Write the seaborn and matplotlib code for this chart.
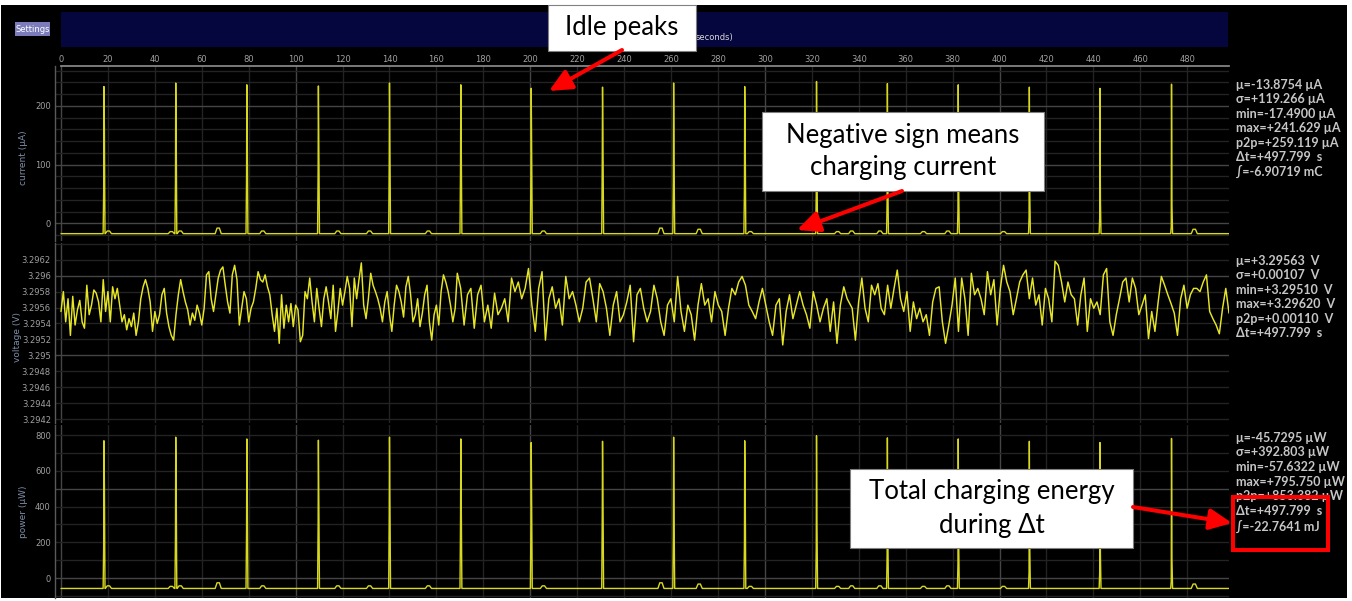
import numpy as np
import pandas as pd
import matplotlib
matplotlib.use("Agg")
import matplotlib.pyplot as plt
import seaborn as sns
from matplotlib.patches import Rectangle, FancyArrowPatch, ArrowStyle

# ---------------- data ----------------
t_end = 497.799
x_ticks = list(range(0, 481, 20))

cur_base = -17.49
pow_base = -57.63

peak_t = [18.3, 48.9, 79.2, 109.7, 140.0, 170.4, 200.4, 230.8, 261.1, 291.4,
          322.0, 352.2, 382.4, 412.7, 442.8, 473.3]
cur_pre = [55, 72, 81, 92, 106, 103, 92, 110, 72, 61, 53, 38, 25, 11, 9, -5]
cur_max = [233, 239, 236, 234, 239, 236, 230, 232, 239, 233, 241.6, 238, 236, 232, 230, 237]
cur_post = [160, 154, 139, 125, 117, 117, 120, 134, 100, 158, 90, 70, 60, 50, 40, 30]

pow_pre = [181, 237, 267, 303, 349, 339, 303, 363, 237, 201, 175, 125, 82, 36, 30, -16]
pow_max = [768, 788, 778, 771, 788, 778, 758, 765, 788, 768, 795.75, 784, 778, 765, 758, 781]
pow_post = [527, 508, 458, 412, 386, 386, 395, 442, 330, 521, 297, 231, 198, 165, 132, 99]

bump_t = [20.2, 47.0, 50.8, 67.0, 86.0, 118.0, 131.5, 156.6, 205.6, 255.7,
          272.0, 293.8, 331.0, 337.0, 349.0, 367.6, 378.0, 401.7, 483.0]
cur_bump = [-13, -14, -13, -8, -13, -13, -13, -13, -13, -8,
            -10, -14, -14, -13, -13, -14, -13, -14, -10]
pow_bump = [-43, -46, -43, -26, -43, -43, -43, -43, -43, -26,
            -33, -46, -46, -43, -43, -46, -43, -46, -33]

volt_seg_start = [0.0, 168.9, 337.2]
volt_seg_end = [168.0, 336.5, 497.8]
volt_seg1 = [
    3.29555, 3.29580, 3.29542, 3.29571, 3.29525, 3.29574, 3.29538, 3.29557, 3.29569, 3.29542,
    3.29534, 3.29588, 3.29551, 3.29563, 3.29582, 3.29578, 3.29567, 3.29542, 3.29595, 3.29555,
    3.29580, 3.29542, 3.29586, 3.29571, 3.29584, 3.29563, 3.29542, 3.29551, 3.29532, 3.29546,
    3.29536, 3.29553, 3.29525, 3.29542, 3.29571, 3.29586, 3.29595, 3.29584, 3.29567, 3.29530,
    3.29555, 3.29540, 3.29551, 3.29576, 3.29584, 3.29553, 3.29536, 3.29525, 3.29519, 3.29551,
    3.29576, 3.29595, 3.29580, 3.29567, 3.29557, 3.29538, 3.29553, 3.29544, 3.29563, 3.29553,
    3.29538, 3.29559, 3.29601, 3.29605, 3.29571, 3.29555, 3.29576, 3.29597, 3.29607, 3.29611,
    3.29588, 3.29567, 3.29553, 3.29601, 3.29613, 3.29595, 3.29538, 3.29559, 3.29580, 3.29571,
    3.29542, 3.29559, 3.29567, 3.29584, 3.29605, 3.29595, 3.29592, 3.29601, 3.29586, 3.29576,
    3.29551, 3.29530, 3.29559, 3.29515, 3.29576, 3.29534, 3.29563, 3.29542, 3.29565, 3.29536,
    3.29563, 3.29557, 3.29517, 3.29525, 3.29580, 3.29571, 3.29597, 3.29567, 3.29542, 3.29584,
    3.29559, 3.29536, 3.29571, 3.29586, 3.29567, 3.29546, 3.29588, 3.29530, 3.29555, 3.29584,
    3.29563, 3.29580, 3.29599, 3.29584, 3.29536, 3.29597, 3.29571, 3.29595, 3.29616, 3.29563,
    3.29546, 3.29571, 3.29603, 3.29588, 3.29580, 3.29571, 3.29559, 3.29542, 3.29567, 3.29580,
    3.29551, 3.29530, 3.29563, 3.29588, 3.29580, 3.29567, 3.29548, 3.29586, 3.29599, 3.29576,
    3.29542, 3.29551, 3.29571, 3.29536, 3.29553, 3.29576, 3.29588, 3.29542, 3.29519, 3.29551,
    3.29563, 3.29538, 3.29580, 3.29601, 3.29592, 3.29580, 3.29563, 3.29542, 3.29559]
volt_seg2 = [
    3.29603, 3.29584, 3.29538, 3.29576, 3.29584, 3.29534, 3.29576, 3.29588, 3.29542, 3.29563,
    3.29534, 3.29578, 3.29551, 3.29559, 3.29571, 3.29542, 3.29597, 3.29580, 3.29592, 3.29571,
    3.29584, 3.29609, 3.29563, 3.29530, 3.29584, 3.29605, 3.29519, 3.29571, 3.29586, 3.29559,
    3.29571, 3.29538, 3.29599, 3.29571, 3.29580, 3.29563, 3.29542, 3.29559, 3.29592, 3.29597,
    3.29571, 3.29542, 3.29590, 3.29580, 3.29559, 3.29525, 3.29563, 3.29580, 3.29542, 3.29551,
    3.29567, 3.29588, 3.29517, 3.29576, 3.29584, 3.29559, 3.29542, 3.29555, 3.29588, 3.29571,
    3.29542, 3.29525, 3.29563, 3.29571, 3.29542, 3.29599, 3.29555, 3.29530, 3.29563, 3.29551,
    3.29519, 3.29563, 3.29590, 3.29563, 3.29571, 3.29542, 3.29580, 3.29563, 3.29555, 3.29525,
    3.29559, 3.29584, 3.29576, 3.29592, 3.29599, 3.29588, 3.29563, 3.29555, 3.29546, 3.29567,
    3.29584, 3.29563, 3.29542, 3.29525, 3.29563, 3.29571, 3.29513, 3.29555, 3.29576, 3.29546,
    3.29563, 3.29580, 3.29563, 3.29551, 3.29534, 3.29580, 3.29563, 3.29542, 3.29559, 3.29571,
    3.29530, 3.29567, 3.29515, 3.29563, 3.29586, 3.29571, 3.29563]
volt_seg3 = [
    3.29559, 3.29519, 3.29567, 3.29597, 3.29559, 3.29542, 3.29588, 3.29576, 3.29590, 3.29559,
    3.29551, 3.29588, 3.29559, 3.29584, 3.29607, 3.29571, 3.29555, 3.29580, 3.29530, 3.29567,
    3.29546, 3.29559, 3.29542, 3.29551, 3.29525, 3.29567, 3.29584, 3.29586, 3.29542, 3.29515,
    3.29538, 3.29563, 3.29597, 3.29530, 3.29597, 3.29571, 3.29525, 3.29603, 3.29576, 3.29584,
    3.29571, 3.29551, 3.29605, 3.29576, 3.29595, 3.29538, 3.29584, 3.29613, 3.29592, 3.29580,
    3.29551, 3.29571, 3.29592, 3.29601, 3.29607, 3.29571, 3.29597, 3.29563, 3.29576, 3.29538,
    3.29584, 3.29571, 3.29542, 3.29618, 3.29613, 3.29592, 3.29567, 3.29592, 3.29576, 3.29571,
    3.29538, 3.29576, 3.29597, 3.29530, 3.29571, 3.29559, 3.29567, 3.29551, 3.29601, 3.29609,
    3.29542, 3.29525, 3.29551, 3.29571, 3.29592, 3.29597, 3.29567, 3.29597, 3.29584, 3.29551,
    3.29563, 3.29576, 3.29521, 3.29555, 3.29530, 3.29567, 3.29599, 3.29588, 3.29576, 3.29565,
    3.29553, 3.29525, 3.29571, 3.29588, 3.29559, 3.29576, 3.29584, 3.29584, 3.29580, 3.29592,
    3.29601, 3.29555, 3.29546, 3.29538, 3.29527, 3.29559, 3.29584, 3.29553]

cur_ticks = [0, 100, 200]
volt_ticks = [3.2942, 3.2944, 3.2946, 3.2948, 3.2950, 3.2952, 3.2954, 3.2956, 3.2958, 3.2960, 3.2962]
volt_tick_labels = ["3.2942", "3.2944", "3.2946", "3.2948", "3.295", "3.2952",
                    "3.2954", "3.2956", "3.2958", "3.296", "3.2962"]
pow_ticks = [0, 200, 400, 600, 800]

cur_stats = ["μ=-13.8754 µA", "σ=+119.266 µA", "min=-17.4900 µA", "max=+241.629 µA",
             "p2p=+259.119 µA", "Δt=+497.799  s", "∫=-6.90719 mC"]
volt_stats = ["μ=+3.29563  V", "σ=+0.00107  V", "min=+3.29510  V", "max=+3.29620  V",
              "p2p=+0.00110  V", "Δt=+497.799  s"]
pow_stats = ["μ=-45.7295 µW", "σ=+392.803 µW", "min=-57.6322 µW", "max=+795.750 µW",
             "p2p=+853.382 µW", "Δt=+497.799  s", "∫=-22.7641 mJ"]


def build_trace(base, p_pre, p_max, p_post, b_h):
    ev = []
    for t, a, b, c in zip(peak_t, p_pre, p_max, p_post):
        ev += [(t - 0.35, base), (t - 0.12, a), (t, b), (t + 0.2, c), (t + 0.45, base)]
    for t, h in zip(bump_t, b_h):
        ev += [(t - 1.3, base), (t - 0.5, h), (t + 0.5, h), (t + 1.3, base)]
    ev.sort()
    xs = [0.0] + [e[0] for e in ev] + [t_end]
    ys = [base] + [e[1] for e in ev] + [base]
    return pd.DataFrame({"t": xs, "v": ys})


cur_df = build_trace(cur_base, cur_pre, cur_max, cur_post, cur_bump)
pow_df = build_trace(pow_base, pow_pre, pow_max, pow_post, pow_bump)
vt, vv = [], []
for s0, s1, seg in zip(volt_seg_start, volt_seg_end, [volt_seg1, volt_seg2, volt_seg3]):
    vt += list(np.linspace(s0, s1, len(seg)))
    vv += seg
volt_df = pd.DataFrame({"t": vt, "v": vv})

# ---------------- style ----------------
sns.set_theme(style="dark")
plt.rcParams["font.family"] = ["DejaVu Sans"]

W, H = 1352, 601
fig = plt.figure(figsize=(13.52, 6.01), dpi=100, facecolor="white")


def fx(x):
    return x / W


def fy(y):
    return 1 - y / H


fig.patches.append(Rectangle((fx(1), fy(598)), fx(1347) - fx(1), fy(5) - fy(598),
                             transform=fig.transFigure, facecolor="black",
                             edgecolor="none", zorder=-5))

GRID_MIN = "#232323"
GRID_MAJ = "#454545"
TICKC = "#a0a0a0"
TRACE = "#d8d81e"


def make_ax(top, bottom):
    ax = fig.add_axes([fx(55), fy(bottom), fx(1229) - fx(55), fy(top) - fy(bottom)])
    ax.set_facecolor("black")
    ax.set_xlim(-2.56, t_end)
    for s in ["top", "right", "bottom"]:
        ax.spines[s].set_visible(False)
    ax.spines["left"].set_visible(True)
    ax.spines["left"].set_color("#5a5a5a")
    ax.spines["left"].set_linewidth(1)
    for t in x_ticks:
        ax.axvline(t, color=GRID_MAJ if t % 100 == 0 else GRID_MIN, lw=1, zorder=0)
    ax.tick_params(axis="y", colors=TICKC, labelsize=6, length=0, pad=3)
    ax.tick_params(axis="x", length=0, labelbottom=False, bottom=False)
    ax.grid(False)
    return ax


ax_c = make_ax(66, 241)
ax_v = make_ax(243, 423)
ax_p = make_ax(425, 598)

# current
ax_c.set_ylim(-30, 268)
for v in range(-20, 261, 20):
    ax_c.axhline(v, color=GRID_MAJ if v % 100 == 0 else GRID_MIN, lw=1, zorder=0)
sns.lineplot(data=cur_df, x="t", y="v", ax=ax_c, color=TRACE, lw=1.0,
             estimator=None, sort=False)
ax_c.set_yticks(cur_ticks)
ax_c.set_xticks(x_ticks)
ax_c.tick_params(axis="x", top=True, labeltop=True, length=0, pad=1.5,
                 labelsize=6, colors=TICKC)
ax_c.spines["top"].set_visible(True)
ax_c.spines["top"].set_color("#8a8a8a")
ax_c.spines["top"].set_bounds(0, t_end)

# voltage
ax_v.set_ylim(3.29415, 3.29641)
for i, v in enumerate(np.arange(3.2942, 3.29645, 0.0002)):
    major = abs(v - 3.295) < 1e-7 or abs(v - 3.296) < 1e-7
    ax_v.axhline(v, color=GRID_MAJ if major else GRID_MIN, lw=1, zorder=0)
sns.lineplot(data=volt_df, x="t", y="v", ax=ax_v, color="#e6e626", lw=1.05,
             estimator=None, sort=False)
ax_v.set_yticks(volt_ticks, labels=volt_tick_labels)
ax_v.set_xticks(x_ticks)

# power
ax_p.set_ylim(-111, 856)
for v in range(-100, 801, 100):
    ax_p.axhline(v, color=GRID_MAJ if v % 500 == 0 else GRID_MIN, lw=1, zorder=0)
sns.lineplot(data=pow_df, x="t", y="v", ax=ax_p, color=TRACE, lw=1.0,
             estimator=None, sort=False)
ax_p.set_yticks(pow_ticks)
ax_p.set_xticks(x_ticks)

for ax in (ax_c, ax_v, ax_p):
    ax.set_xlabel("")
    ax.set_ylabel("")

# y labels
LABC = "#7f8ea6"
fig.text(fx(23), fy(158), "current (µA)", rotation=90, ha="center", va="center",
         fontsize=6.5, color=LABC)
fig.text(fx(17), fy(337), "voltage (V)", rotation=90, ha="center", va="center",
         fontsize=6.5, color=LABC)
fig.text(fx(23), fy(512), "power (µW)", rotation=90, ha="center", va="center",
         fontsize=6.5, color=LABC)

# top bar
fig.patches.append(Rectangle((fx(61), fy(47)), fx(1228) - fx(61), fy(12) - fy(47),
                             transform=fig.transFigure, facecolor="#06063f",
                             edgecolor="none", zorder=1))
fig.patches.append(Rectangle((fx(15), fy(36)), fx(50) - fx(15), fy(22) - fy(36),
                             transform=fig.transFigure, facecolor="#7c7cbc",
                             edgecolor="none", zorder=1))
fig.text(fx(32.5), fy(29.5), "Settings", ha="center", va="center", fontsize=6,
         color="white", zorder=2)
# only the visible end of the axis title shows beside the "Idle peaks" box
fig.text(fx(733), fy(37.5), "seconds)", ha="right", va="center", fontsize=6,
         color="#d8d8d8", zorder=2)

# stats
STATC = "#c6c6c6"
for blk, y0, dy in ((cur_stats, 85, 14.4), (volt_stats, 260.5, 14.55), (pow_stats, 437.5, 14.75)):
    for i, s in enumerate(blk):
        fig.text(fx(1236), fy(y0 + i * dy), s, ha="left", va="center", fontsize=9,
                 fontweight="bold", color=STATC, family=["Lato", "DejaVu Sans"], zorder=3)

# annotation boxes
def box(x0, y0, x1, y1, lines, ys, size):
    fig.patches.append(Rectangle((fx(x0), fy(y1)), fx(x1) - fx(x0), fy(y0) - fy(y1),
                                 transform=fig.transFigure, facecolor="white",
                                 edgecolor="#808080", lw=0.8, zorder=10))
    for s, yy in zip(lines, ys):
        fig.text(fx((x0 + x1) / 2), fy(yy), s, ha="center", va="center", fontsize=size,
                 color="black", family=["Lato", "DejaVu Sans"], zorder=11)


def arrow(xa, ya, xb, yb):
    fig.patches.append(FancyArrowPatch((fx(xa), fy(ya)), (fx(xb), fy(yb)),
                                       transform=fig.transFigure,
                                       arrowstyle=ArrowStyle("-|>", head_length=0.9, head_width=0.42),
                                       mutation_scale=15, color="#ff0000", lw=2.9,
                                       shrinkA=0, shrinkB=0, zorder=12))


box(548, 5, 696, 51, ["Idle peaks"], [28], 18.5)
box(762, 112, 1044, 191, ["Negative sign means", "charging current"], [135, 168], 18.5)
box(850, 469, 1133, 548, ["Total charging energy", "during Δt"], [492, 526], 18.5)

arrow(622, 50, 549, 91)
arrow(902, 191, 797, 230)
arrow(1133, 507, 1232, 523)

fig.patches.append(Rectangle((fx(1233), fy(550)), fx(1328) - fx(1233), fy(497) - fy(550),
                             transform=fig.transFigure, facecolor="none",
                             edgecolor="#ff0000", lw=2.9, zorder=12))

fig.savefig("out.png", dpi=100, facecolor="white")
